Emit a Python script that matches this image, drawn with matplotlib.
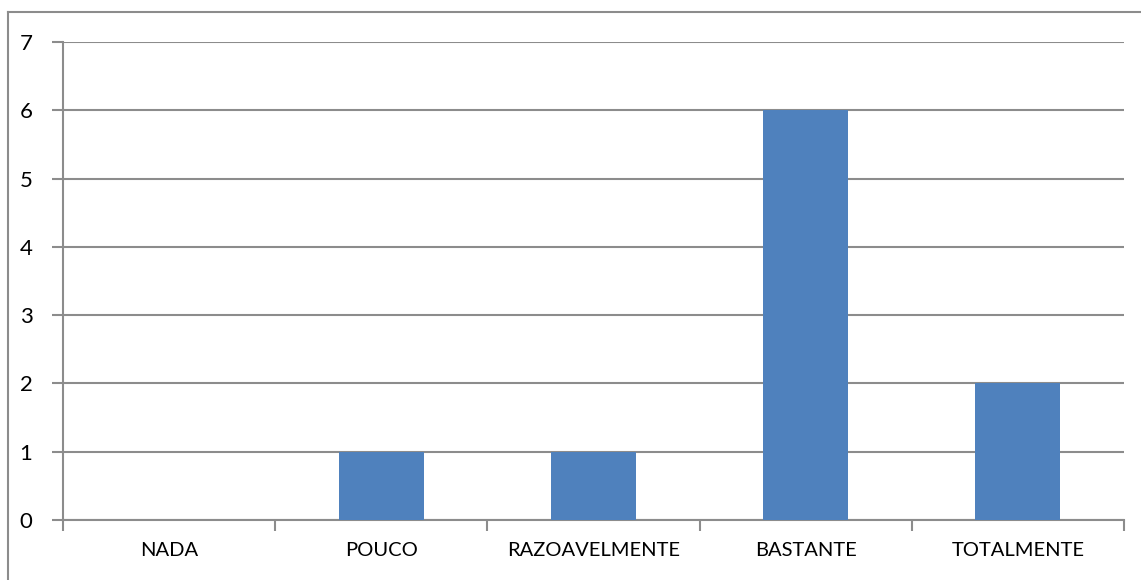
import matplotlib.pyplot as plt
from matplotlib.lines import Line2D
import numpy as np

categorias = ['NADA', 'POUCO', 'RAZOAVELMENTE', 'BASTANTE', 'TOTALMENTE']
valores = [0, 1, 1, 6, 2]

plt.rcParams['font.family'] = ['Lato', 'DejaVu Sans']

cinza = '#8c8c8c'
azul = '#4f81bd'

fig = plt.figure(figsize=(11.41, 5.80), dpi=100)
ax = fig.add_axes([63 / 1141, 1 - 520 / 580, (1124 - 63) / 1141, (520 - 42) / 580])

x = np.arange(len(categorias))
ax.bar(x, valores, width=0.4, color=azul, zorder=3)

ax.set_xlim(-0.5, len(categorias) - 0.5)
ax.set_ylim(0, 7)
ax.set_yticks(range(0, 8))
ax.yaxis.grid(True, color=cinza, linewidth=1.5, zorder=0)

ax.set_xticks(x)
ax.set_xticklabels(categorias, fontsize=14.5)
ax.tick_params(axis='x', length=0, pad=16)
ax.set_xticks(np.arange(-0.5, len(categorias)), minor=True)
ax.tick_params(axis='x', which='minor', length=8, width=1.5, color=cinza, direction='out')
ax.tick_params(axis='y', length=8, width=1.5, color=cinza, direction='out', labelsize=16, pad=14)

for lado in ['top', 'right']:
    ax.spines[lado].set_visible(False)
for lado in ['left', 'bottom']:
    ax.spines[lado].set_color(cinza)
    ax.spines[lado].set_linewidth(1.5)

# moldura do gráfico (só topo e esquerda ficam visíveis)
fig.add_artist(Line2D([8 / 1141, 8 / 1141], [0, 1 - 12 / 580], color=cinza, linewidth=1.5))
fig.add_artist(Line2D([8 / 1141, 1], [1 - 12 / 580, 1 - 12 / 580], color=cinza, linewidth=1.5))

fig.savefig('out.png', dpi=100)
